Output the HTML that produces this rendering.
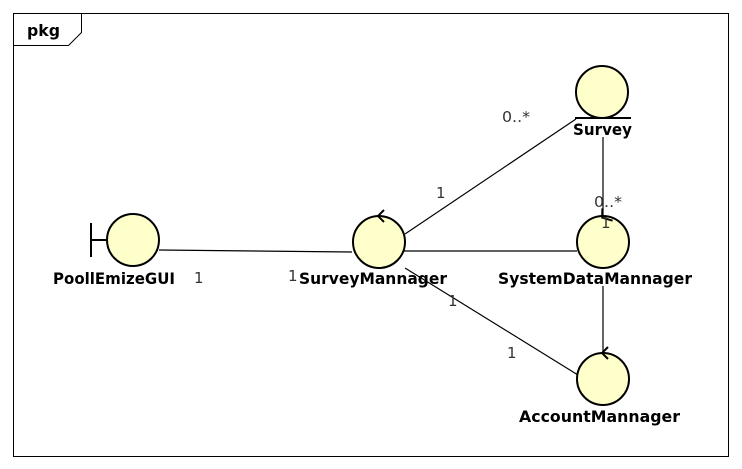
<!DOCTYPE html>
<html><head><style>body{margin:0;background:#fff}svg{display:block}</style></head><body>
<svg width="742" height="469" xmlns="http://www.w3.org/2000/svg" font-family="DejaVu Sans, sans-serif">
<rect x="13.5" y="13.5" width="715" height="443" fill="none" stroke="#000"/>
<path d="M13.5 45.5 H68.5 L81.5 32.5 V13.5" fill="none" stroke="#000"/>
<text x="27" y="36" font-size="16" font-weight="600" textLength="33" lengthAdjust="spacingAndGlyphs">pkg</text>
<g stroke="#000" stroke-width="1.2" fill="none">
<line x1="159" y1="250" x2="352" y2="252"/>
<line x1="404" y1="251" x2="577" y2="251"/>
<line x1="576" y1="119" x2="405" y2="234"/>
<line x1="603" y1="137" x2="603" y2="216"/>
<line x1="603" y1="286" x2="603" y2="353"/>
<line x1="405" y1="268" x2="578" y2="375"/>
</g>
<g stroke="#000" stroke-width="2" fill="#ffffcc">
<circle cx="133" cy="240" r="26"/>
<circle cx="379" cy="242" r="26"/>
<circle cx="602" cy="92" r="26"/>
<circle cx="603" cy="242" r="26"/>
<circle cx="603" cy="379" r="26"/>
</g>
<g stroke="#000" stroke-width="2" fill="none">
<line x1="91" y1="223" x2="91" y2="257"/><line x1="91" y1="240" x2="107" y2="240"/>
<line x1="575" y1="118" x2="631" y2="118"/>
<polyline points="384,210 378,216 384,222"/>
<polyline points="608,226 602,217 608,210" transform="rotate(-40 603 217)"/>
<polyline points="608,347 602,353 608,359"/>
</g>
<g font-size="16" font-weight="600" fill="#000">
<text x="53" y="284" textLength="122" lengthAdjust="spacingAndGlyphs">PoollEmizeGUI</text>
<text x="299" y="284" textLength="148" lengthAdjust="spacingAndGlyphs">SurveyMannager</text>
<text x="573" y="135" textLength="59" lengthAdjust="spacingAndGlyphs">Survey</text>
<text x="498" y="284" textLength="194" lengthAdjust="spacingAndGlyphs">SystemDataMannager</text>
<text x="519" y="422" textLength="161" lengthAdjust="spacingAndGlyphs">AccountMannager</text>
</g>
<g font-size="15" fill="#333">
<text x="502" y="122" textLength="28" lengthAdjust="spacingAndGlyphs">0..*</text>
<text x="436" y="198">1</text>
<text x="594" y="207" textLength="28" lengthAdjust="spacingAndGlyphs">0..*</text>
<text x="601" y="228">1</text>
<text x="194" y="283">1</text>
<text x="288" y="281">1</text>
<text x="448" y="306">1</text>
<text x="507" y="358">1</text>
</g>
</svg>
</body></html>
